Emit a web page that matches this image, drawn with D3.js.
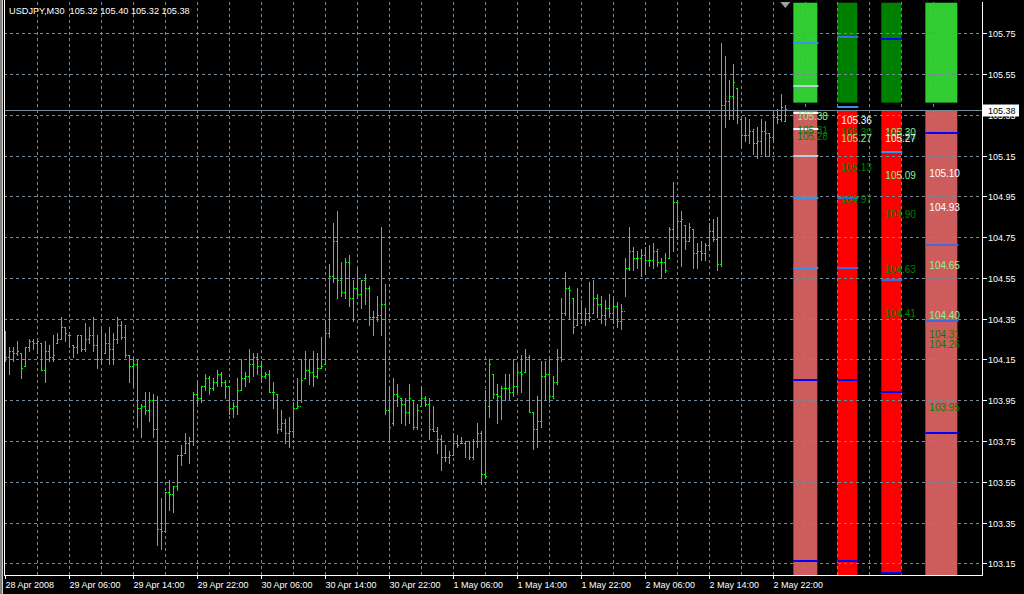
<!DOCTYPE html>
<html><head><meta charset="utf-8">
<script src="https://cdn.jsdelivr.net/npm/d3@7"></script>
<style>
html,body{margin:0;padding:0;background:#000;}
svg{display:block;}
text{font-family:"Liberation Sans",Arial,sans-serif;}
</style></head>
<body>
<script>
// ---------- DATA ----------
const symbolTitle = "USDJPY,M30  105.32 105.40 105.32 105.38";
const bidPrice = 105.38;

const highs = [104.29,104.21,104.21,104.24,104.18,104.21,104.25,104.25,104.24,104.23,104.24,104.22,104.27,104.28,104.36,104.31,104.27,104.22,104.27,104.27,
104.33,104.31,104.36,104.27,104.30,104.28,104.31,104.28,104.36,104.34,104.32,104.17,104.16,104.15,103.93,103.99,103.99,103.98,103.97,103.47,
103.50,103.56,103.53,103.68,103.73,103.79,103.77,103.99,104.05,104.02,104.08,104.07,104.06,104.10,104.09,104.05,104.02,103.94,104.06,104.15,
104.09,104.20,104.18,104.18,104.14,104.09,104.10,104.04,103.98,103.90,103.86,103.87,103.94,104.06,104.15,104.19,104.15,104.19,104.18,104.26,
104.34,104.62,104.82,104.88,104.63,104.65,104.66,104.54,104.60,104.54,104.57,104.51,104.39,104.46,104.80,104.52,104.02,104.06,104.03,103.96,
103.96,104.03,103.95,103.93,104.02,103.97,103.96,103.92,103.82,103.78,103.73,103.70,103.79,103.78,103.77,103.75,103.75,103.76,103.84,103.80,
104.00,104.15,104.08,104.03,104.02,104.08,104.08,104.15,104.13,104.17,104.20,104.17,103.89,103.97,104.14,104.14,104.15,104.07,104.20,104.45,
104.58,104.51,104.45,104.50,104.44,104.40,104.53,104.54,104.47,104.46,104.44,104.47,104.45,104.43,104.42,104.65,104.80,104.70,104.68,104.69,
104.70,104.71,104.72,104.69,104.65,104.67,104.80,105.02,104.93,104.88,104.81,104.82,104.79,104.72,104.73,104.72,104.82,104.84,104.85,105.70,
105.64,105.52,105.60,105.48,105.33,105.34,105.33,105.28,105.29,105.33,105.32,105.26,105.37,105.38,105.45,105.40];

const lows = [104.14,104.08,104.14,104.17,104.06,104.12,104.19,104.20,104.18,104.10,104.04,104.14,104.14,104.23,104.25,104.24,104.21,104.16,104.18,104.19,
104.19,104.23,104.19,104.11,104.13,104.18,104.13,104.13,104.23,104.25,104.16,104.04,104.02,103.82,103.77,103.88,103.85,103.77,103.24,103.22,
103.31,103.41,103.40,103.51,103.63,103.69,103.64,103.73,103.93,103.94,104.00,103.98,104.00,104.02,104.02,103.96,103.88,103.87,103.88,104.00,
104.02,104.04,104.07,104.08,104.04,104.06,103.99,103.91,103.79,103.80,103.74,103.72,103.77,103.91,103.94,104.06,104.03,104.02,104.06,104.11,
104.13,104.26,104.53,104.45,104.46,104.45,104.41,104.34,104.45,104.40,104.42,104.32,104.27,104.34,104.27,103.88,103.75,103.83,103.92,103.84,
103.83,103.84,103.81,103.81,103.92,103.92,103.76,103.80,103.69,103.61,103.65,103.64,103.68,103.72,103.74,103.67,103.66,103.66,103.72,103.54,
103.57,103.87,103.96,103.84,103.86,103.95,103.95,103.97,103.99,103.99,104.09,103.89,103.71,103.72,103.82,103.95,103.94,103.96,104.03,104.14,
104.37,104.35,104.28,104.32,104.33,104.32,104.34,104.38,104.36,104.33,104.32,104.36,104.33,104.31,104.30,104.46,104.59,104.59,104.60,104.56,
104.57,104.61,104.60,104.61,104.55,104.58,104.65,104.68,104.74,104.61,104.69,104.73,104.60,104.60,104.64,104.64,104.69,104.73,104.59,104.61,
105.29,105.33,105.33,105.31,105.19,105.22,105.21,105.16,105.14,105.16,105.15,105.15,105.22,105.31,105.32,105.32];

const opens = [104.17,104.16,104.19,104.18,104.18,104.12,104.21,104.24,104.23,104.23,104.10,104.19,104.16,104.23,104.25,104.31,104.27,104.22,104.21,104.27,
104.20,104.25,104.27,104.22,104.15,104.18,104.23,104.20,104.25,104.32,104.26,104.17,104.12,104.13,103.91,103.92,103.90,103.95,103.81,103.32,
103.31,103.50,103.49,103.53,103.68,103.69,103.74,103.75,103.98,103.96,104.02,104.06,104.01,104.04,104.08,104.04,104.02,103.91,103.92,104.00,
104.06,104.07,104.13,104.16,104.12,104.07,104.08,103.99,103.98,103.81,103.84,103.79,103.80,103.91,103.92,104.06,104.10,104.09,104.07,104.11,
104.13,104.28,104.56,104.73,104.54,104.48,104.63,104.45,104.50,104.47,104.54,104.50,104.36,104.36,104.37,104.42,103.90,103.84,103.98,103.96,
103.93,103.89,103.95,103.82,103.92,103.96,103.93,103.81,103.80,103.76,103.67,103.67,103.68,103.74,103.74,103.74,103.75,103.67,103.75,103.79,
103.59,103.92,104.08,103.98,103.97,104.01,104.01,103.99,104.02,104.09,104.09,104.16,103.89,103.81,103.85,104.07,104.08,103.97,104.04,104.16,
104.38,104.50,104.45,104.32,104.38,104.35,104.38,104.38,104.45,104.42,104.37,104.40,104.38,104.41,104.34,104.39,104.60,104.68,104.65,104.65,
104.66,104.64,104.64,104.68,104.63,104.63,104.65,104.79,104.92,104.83,104.81,104.73,104.79,104.67,104.68,104.67,104.71,104.78,104.74,104.62,
105.40,105.42,105.44,105.48,105.33,105.25,105.25,105.27,105.21,105.22,105.27,105.26,105.24,105.34,105.33,105.32];

const closes = [104.16,104.19,104.18,104.19,104.11,104.21,104.24,104.23,104.24,104.10,104.19,104.16,104.17,104.25,104.31,104.28,104.27,104.21,104.27,104.20,
104.25,104.27,104.22,104.15,104.15,104.23,104.20,104.25,104.32,104.26,104.17,104.12,104.13,103.91,103.92,103.90,103.95,103.81,103.32,103.31,
103.50,103.49,103.53,103.68,103.68,103.74,103.75,103.98,103.96,104.02,104.06,104.01,104.04,104.08,104.04,104.02,103.91,103.92,104.00,104.06,
104.07,104.13,104.16,104.12,104.07,104.08,103.99,103.99,103.81,103.84,103.79,103.80,103.91,103.92,104.05,104.10,104.09,104.07,104.11,104.12,
104.28,104.56,104.73,104.54,104.48,104.63,104.45,104.50,104.47,104.54,104.50,104.36,104.36,104.37,104.42,103.90,103.82,103.98,103.97,103.93,
103.89,103.96,103.82,103.90,103.96,103.93,103.81,103.80,103.76,103.67,103.67,103.68,103.74,103.73,103.74,103.75,103.67,103.75,103.79,103.59,
103.58,104.13,103.98,103.97,104.01,104.01,103.99,104.02,104.09,104.08,104.16,103.89,103.81,103.85,104.07,104.08,103.97,104.04,104.16,104.38,
104.50,104.49,104.31,104.38,104.35,104.38,104.36,104.45,104.42,104.37,104.40,104.38,104.41,104.34,104.39,104.60,104.68,104.65,104.65,104.66,
104.64,104.64,104.68,104.63,104.63,104.59,104.79,104.92,104.83,104.84,104.73,104.80,104.67,104.68,104.67,104.71,104.78,104.74,104.62,105.40,
105.42,105.44,105.51,105.34,105.25,105.25,105.27,105.21,105.22,105.27,105.26,105.24,105.34,105.33,105.39,105.38];

const priceTicks = [105.75,105.55,105.35,105.15,104.95,104.75,104.55,104.35,104.15,103.95,103.75,103.55,103.35,103.15];
const timeLabels = ["28 Apr 2008","29 Apr 06:00","29 Apr 14:00","29 Apr 22:00","30 Apr 06:00","30 Apr 14:00","30 Apr 22:00",
  "1 May 06:00","1 May 14:00","1 May 22:00","2 May 06:00","2 May 14:00","2 May 22:00"];

// indicator columns: zone boundaries (prices)
const zoneUpperTop   = [105.90,105.90,105.90,105.90];
const zoneUpperBase  = [105.41,105.41,105.41,105.41];
const zoneLowerTop   = [105.37,105.37,105.37,105.37];
const zoneLowerBase  = [103.09,103.09,103.10,103.09];

// level lines per column: [price, kind]
const levels1 = [[105.70,"dodger"],[105.49,"steel"],[105.36,"white"],[105.28,"white"],[105.15,"steel"],[104.94,"dodger"],[104.60,"dodger"],[104.05,"blue"],[103.16,"blue"]];
const levels2 = [[105.73,"royal"],[105.39,"dodger"],[104.94,"royal"],[104.60,"royal"],[104.05,"blue"],[103.16,"blue"]];
const levels3 = [[105.72,"blue"],[105.17,"dodger"],[104.54,"royal"],[103.99,"blue"],[103.10,"blue"]];
const levels4 = [[105.26,"blue"],[104.71,"royal"],[104.34,"royal"],[103.79,"blue"]];

// price text labels per column: [price, kind]
const labels1 = [[105.38,"light"],[105.31,"dark"],[105.28,"dark"]];
const labels2 = [[105.36,"white"],[105.30,"dark"],[105.27,"light"],[105.13,"dark"],[104.97,"dark"]];
const labels3 = [[105.30,"light"],[105.28,"dark"],[105.27,"white"],[105.09,"light"],[104.90,"dark"],[104.63,"dark"],[104.41,"dark"]];
const labels4 = [[105.10,"white"],[104.93,"white"],[104.65,"light"],[104.40,"light"],[104.31,"dark"],[104.26,"dark"],[103.95,"dark"]];

// ---------- LAYOUT / STYLE ----------
const W = 1024, H = 594;
const plotL = 4, plotR = 983, plotT = 2, plotB = 575;
const gridColor = "#778899";
const barColor = "#00ff00";
const axisFont = "9px";
const levelColor = {dodger:"#3b8ff0", steel:"#b8cfe0", white:"#ffffff", royal:"#4169e1", blue:"#0000ff"};
const labelColor = {white:"#ffffff", light:"#90ee90", dark:"#008000"};
const colSlots = [[197,203],[208,213],[219,224],[230,238]]; // in bar-index units
const upperFill = ["#32cd32","#008000","#008000","#32cd32"];
const lowerFill = ["#cd5c5c","#ff0000","#ff0000","#cd5c5c"];
const allLevels = [levels1,levels2,levels3,levels4];
const allLabels = [labels1,labels2,labels3,labels4];

const x = d3.scaleLinear().domain([0, closes.length-1]).range([5.33, 5.33 + 4*(closes.length-1)]);
const y = d3.scaleLinear().domain([103.15, 105.75]).range([563.3, 33.3]);

const svg = d3.select("body").append("svg").attr("width", W).attr("height", H)
  .style("background","#000");

// window frame on the left
svg.append("rect").attr("x",0).attr("y",0).attr("width",2).attr("height",H).attr("fill","#808080");
svg.append("rect").attr("x",2).attr("y",0).attr("width",1).attr("height",H).attr("fill","#d4d0c8");

const plot = svg.append("g");
plot.append("defs").append("clipPath").attr("id","clip")
  .append("rect").attr("x",plotL).attr("y",plotT).attr("width",plotR-plotL).attr("height",plotB-plotT);
const inner = plot.append("g").attr("clip-path","url(#clip)");

// indicator columns
colSlots.forEach((s,i)=>{
  const x0 = x(s[0]), x1 = x(s[1]);
  inner.append("rect").attr("x",x0).attr("width",x1-x0)
    .attr("y",y(zoneUpperTop[i])).attr("height",y(zoneUpperBase[i])-y(zoneUpperTop[i]))
    .attr("fill",upperFill[i]);
  inner.append("rect").attr("x",x0).attr("width",x1-x0)
    .attr("y",y(zoneLowerTop[i])).attr("height",y(zoneLowerBase[i])-y(zoneLowerTop[i]))
    .attr("fill",lowerFill[i]);
});

// grid
const gridG = inner.append("g").attr("stroke",gridColor).attr("stroke-width",1).attr("stroke-dasharray","3,3").attr("shape-rendering","crispEdges");
priceTicks.forEach(p=>{
  gridG.append("line").attr("x1",plotL).attr("x2",plotR).attr("y1",Math.round(y(p))+0.5).attr("y2",Math.round(y(p))+0.5);
});
d3.range(8, 240, 8).forEach(i=>{
  const xx = Math.floor(x(i))+0.5;
  if (xx < plotR) gridG.append("line").attr("x1",xx).attr("x2",xx).attr("y1",plotT).attr("y2",plotB);
});

// level lines & labels on columns
colSlots.forEach((s,i)=>{
  const x0 = x(s[0]), x1 = x(s[1]);
  allLevels[i].forEach(([p,k])=>{
    inner.append("rect").attr("x",x0).attr("width",x1-x0+1).attr("y",Math.round(y(p))-1).attr("height",2)
      .attr("fill",levelColor[k]);
  });
  allLabels[i].forEach(([p,k])=>{
    inner.append("text").attr("x",x0+4).attr("y",y(p)+11).attr("fill",labelColor[k])
      .attr("font-size","10px").text(p.toFixed(2));
  });
});

// bid line
inner.append("line").attr("x1",plotL).attr("x2",plotR)
  .attr("y1",Math.round(y(bidPrice))+1.5).attr("y2",Math.round(y(bidPrice))+1.5)
  .attr("stroke","#778899").attr("stroke-width",1).attr("shape-rendering","crispEdges");

// OHLC bars
const barsG = inner.append("g").attr("fill",barColor).attr("shape-rendering","crispEdges");
closes.forEach((c,i)=>{
  const xx = Math.floor(x(i));
  const yh = Math.round(y(highs[i])), yl = Math.round(y(lows[i]));
  barsG.append("rect").attr("x",xx).attr("y",yh).attr("width",1).attr("height",Math.max(1,yl-yh+1));
  barsG.append("rect").attr("x",xx-1).attr("y",Math.round(y(opens[i]))).attr("width",1).attr("height",1);
  barsG.append("rect").attr("x",xx+1).attr("y",Math.round(y(c))).attr("width",1).attr("height",1);
});

// chart-shift marker
const mx = x(closes.length-1);
svg.append("path").attr("d",`M${mx-5},${plotT} L${mx+5},${plotT} L${mx},${plotT+6} Z`).attr("fill","#a0a0a0");

// frame lines
svg.append("line").attr("x1",plotL+0.5).attr("x2",plotL+0.5).attr("y1",0).attr("y2",plotB).attr("stroke","#fff");
svg.append("line").attr("x1",plotR-0.5).attr("x2",plotR-0.5).attr("y1",plotT).attr("y2",plotB+0.5).attr("stroke","#fff");
svg.append("line").attr("x1",plotL).attr("x2",plotR).attr("y1",plotB+0.5).attr("y2",plotB+0.5).attr("stroke","#fff");

// right price axis
const ax = svg.append("g");
priceTicks.forEach(p=>{
  const yy = Math.round(y(p))+0.5;
  ax.append("line").attr("x1",plotR).attr("x2",plotR+4).attr("y1",yy).attr("y2",yy).attr("stroke","#fff");
  ax.append("text").attr("x",plotR+5).attr("y",yy+3.5).attr("fill","#fff").attr("font-size",axisFont).text(p.toFixed(2));
});
// bid label
const yb = Math.round(y(bidPrice))+1.5;
ax.append("rect").attr("x",plotR).attr("y",yb-6).attr("width",36).attr("height",12).attr("fill","#fff");
ax.append("text").attr("x",plotR+5).attr("y",yb+3.5).attr("fill","#000").attr("font-size",axisFont).text(bidPrice.toFixed(2));

// bottom time axis
timeLabels.forEach((t,k)=>{
  const xx = Math.floor(x(k*16))+0.5;
  ax.append("line").attr("x1",xx).attr("x2",xx).attr("y1",plotB).attr("y2",plotB+4).attr("stroke","#fff");
  ax.append("text").attr("x",xx).attr("y",587.5).attr("fill","#fff").attr("font-size",axisFont).text(t);
});

// title
svg.append("text").attr("x",9).attr("y",14).attr("fill","#fff").attr("font-size","9.2px")
  .attr("xml:space","preserve").style("white-space","pre").text(symbolTitle);
</script>
</body></html>
